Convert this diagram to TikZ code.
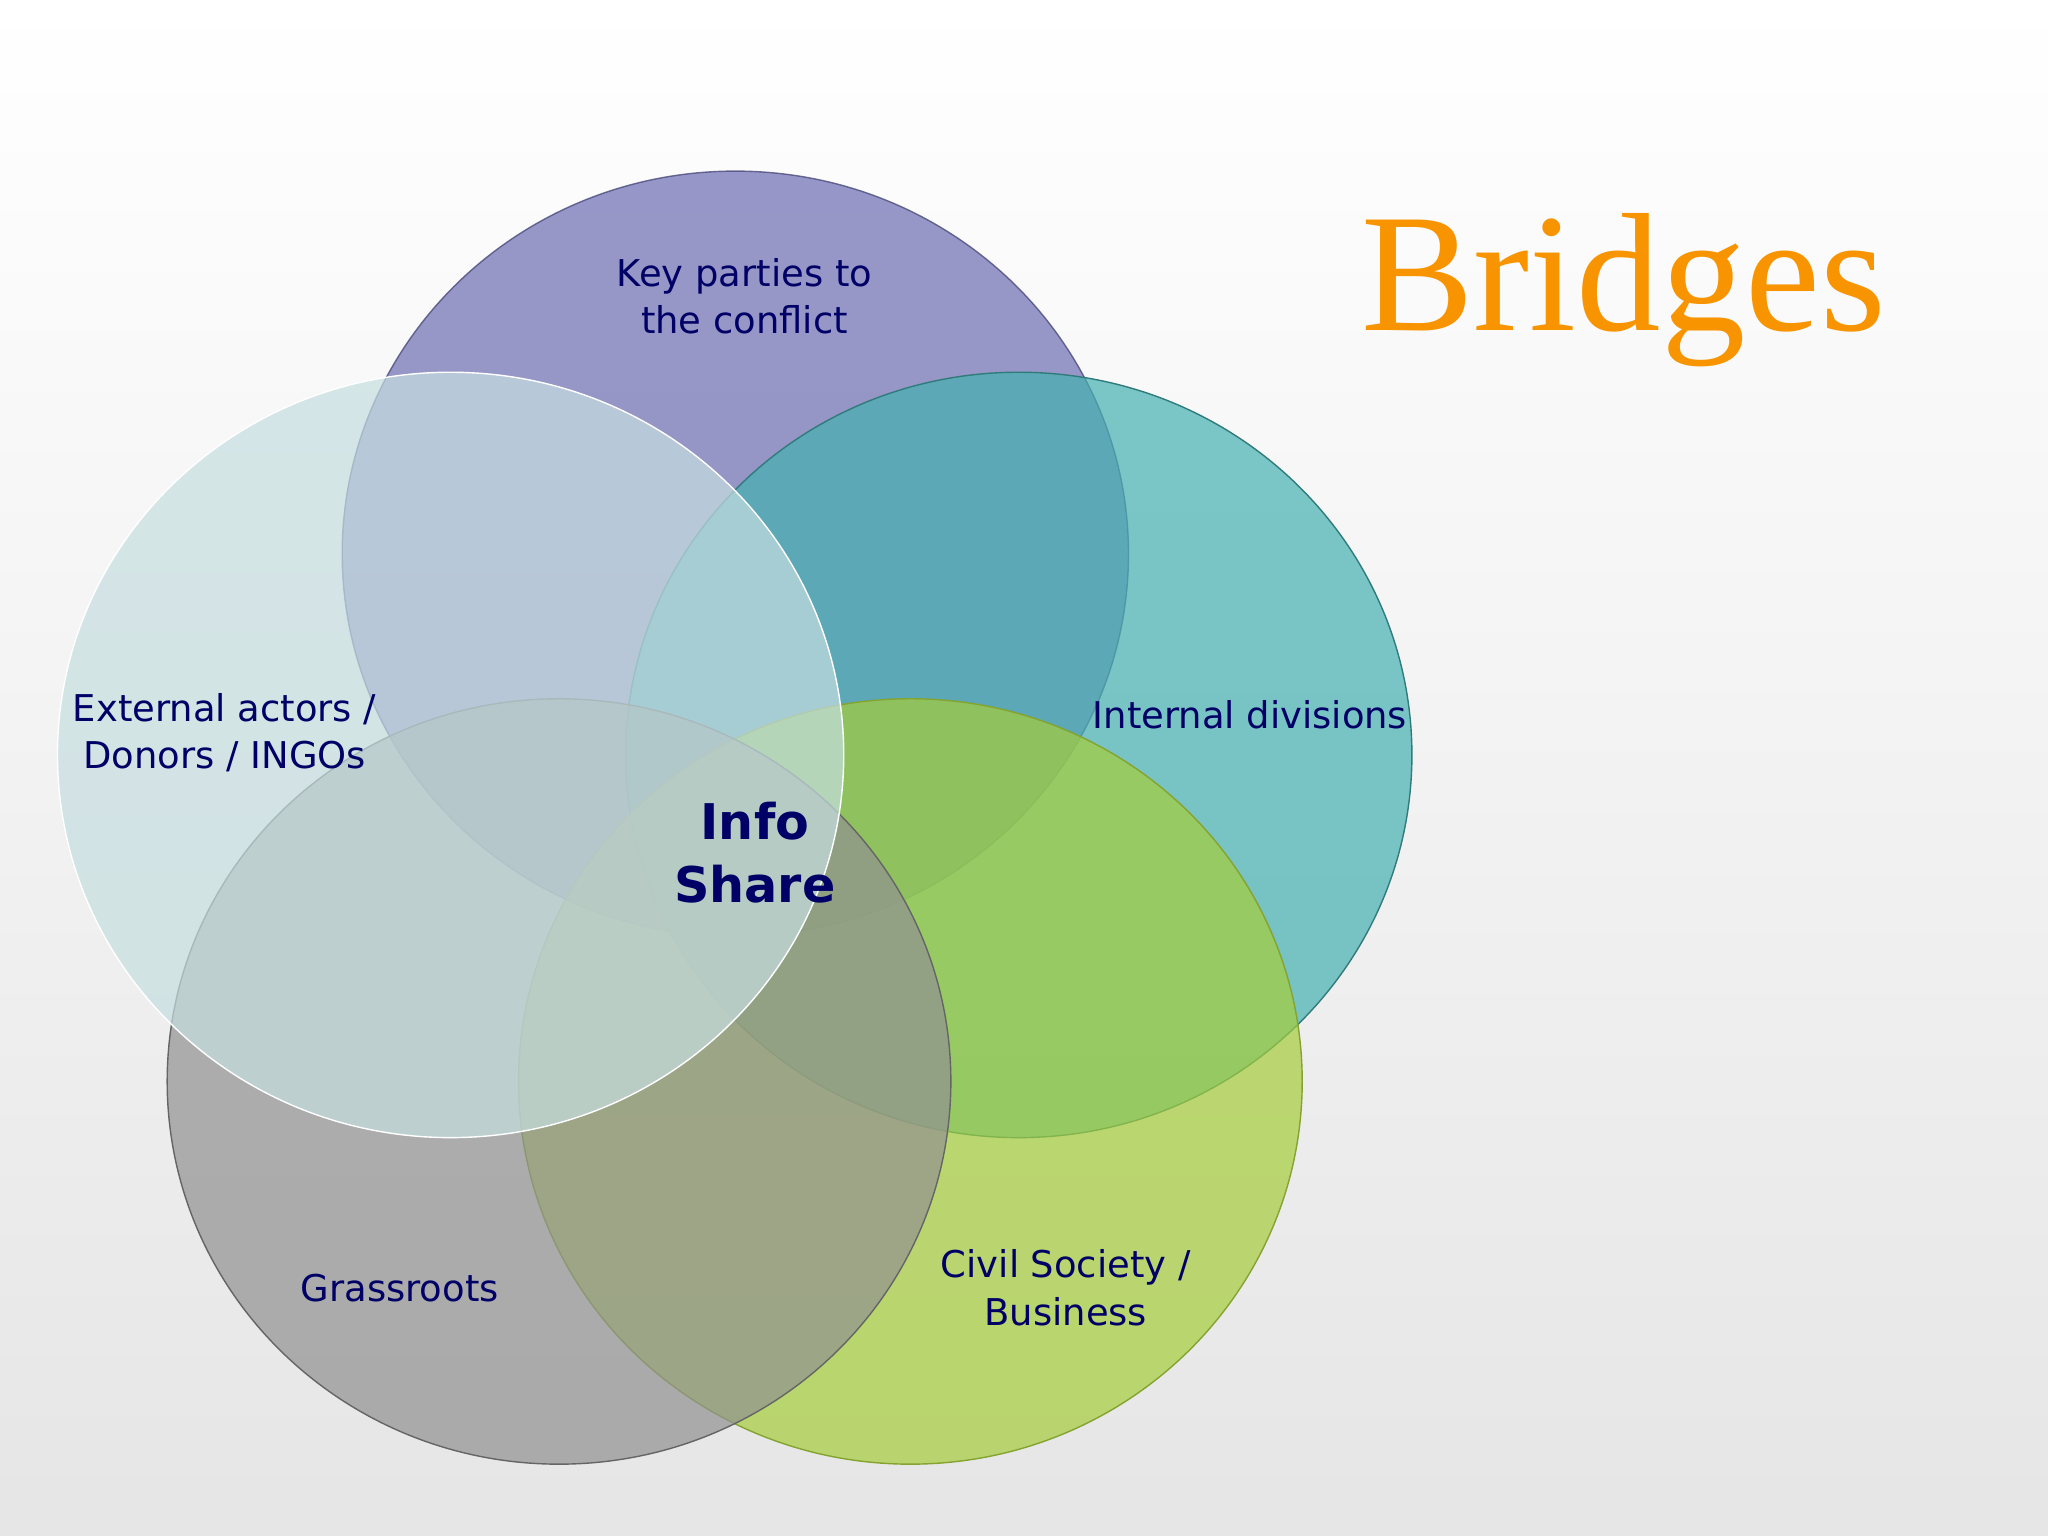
\documentclass[tikz,border=0pt]{standalone}
\usepackage{fontspec}
\setmainfont{DejaVu Sans}
\newfontfamily\titlefont{Liberation Serif}
\begin{document}
\begin{tikzpicture}[x=0.01306cm,y=-0.01306cm,
  circ/.style={fill opacity=0.7,draw opacity=0.8,line width=0.5pt},
  lbl/.style={text=navy,font=\fontsize{10.5}{13.5}\selectfont,align=center}]
\definecolor{navy}{RGB}{0,0,102}
\definecolor{cpurple}{RGB}{108,108,178}
\definecolor{cteal}{RGB}{69,177,177}
\definecolor{clight}{RGB}{198,222,224}
\definecolor{cgray}{RGB}{145,145,145}
\definecolor{cgreen}{RGB}{166,205,59}
\definecolor{corange}{RGB}{247,148,0}
\shade[top color=white,bottom color=black!10] (0,0) rectangle (1568,1176);
\useasboundingbox (0,0) rectangle (1568,1176);
\fill[circ,cpurple] (563,424) ellipse [x radius=301,y radius=293];
\draw[cpurple!70!black,draw opacity=0.8] (563,424) ellipse [x radius=301,y radius=293];
\fill[circ,cteal] (780,578) ellipse [x radius=301,y radius=293];
\draw[cteal!70!black] (780,578) ellipse [x radius=301,y radius=293];
\fill[circ,cgreen] (697,828) ellipse [x radius=300,y radius=293];
\draw[cgreen!80!black] (697,828) ellipse [x radius=300,y radius=293];
\fill[circ,cgray] (428,828) ellipse [x radius=300,y radius=293];
\draw[cgray!70!black] (428,828) ellipse [x radius=300,y radius=293];
\fill[circ,clight] (345,578) ellipse [x radius=301,y radius=293];
\draw[white] (345,578) ellipse [x radius=301,y radius=293];
\node[lbl] (k) at (570,227) {Key parties to\\the conflict};
\node[lbl] (e) at (172,561) {External actors /\\Donors / INGOs};
\node[lbl] (i) at (957,547) {Internal divisions};
\node[lbl] (g) at (306,986) {Grassroots};
\node[lbl] (c) at (816,986) {Civil Society /\\Business};
\node[text=navy,font=\fontsize{14}{18}\selectfont\bfseries,align=center] (s) at (578,653) {Info\\Share};
\node[text=corange,font=\titlefont\fontsize{48}{50}\selectfont] (b) at (1243,222) {Bridges};
\end{tikzpicture}
\end{document}
